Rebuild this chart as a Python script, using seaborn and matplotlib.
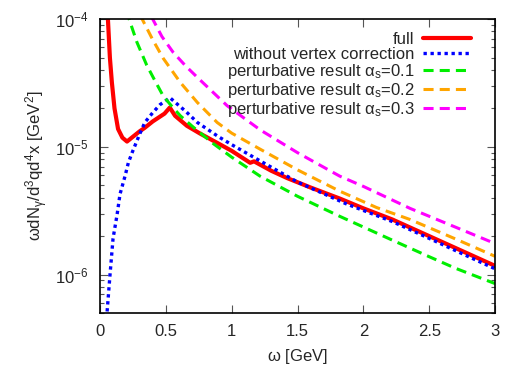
import matplotlib
matplotlib.use("Agg")
import matplotlib.pyplot as plt
import matplotlib.ticker as mticker
import seaborn as sns
import numpy as np

# values (log scale y)
omega_full = [0.045, 0.06, 0.075, 0.09, 0.11, 0.137, 0.17, 0.205, 0.25, 0.3, 0.34, 0.4,
              0.49, 0.53, 0.57, 0.66, 0.76, 0.9, 1.0, 1.14, 1.17, 1.2, 1.3, 1.42, 1.6,
              1.82, 2.0, 2.22, 2.5, 2.8, 3.0]
full = [1.6e-4, 1.0e-4, 5.0e-5, 3.2e-5, 2.0e-5, 1.38e-5, 1.18e-5, 1.1e-5, 1.2e-5, 1.32e-5,
        1.41e-5, 1.58e-5, 1.82e-5, 2.03e-5, 1.75e-5, 1.46e-5, 1.27e-5, 1.06e-5, 9.3e-6,
        7.5e-6, 7.7e-6, 7.4e-6, 6.5e-6, 5.7e-6, 4.8e-6, 3.94e-6, 3.3e-6, 2.7e-6, 2.0e-6,
        1.45e-6, 1.17e-6]

omega_novc = [0.045, 0.053, 0.076, 0.099, 0.13, 0.152, 0.19, 0.215, 0.243, 0.3, 0.34, 0.4,
              0.456, 0.5, 0.53, 0.6, 0.65, 0.74, 0.9, 1.0, 1.215, 1.5, 1.875, 2.22, 2.5,
              2.8, 3.0]
no_vertex = [4.0e-7, 5.0e-7, 1.0e-6, 1.92e-6, 2.96e-6, 4.27e-6, 5.9e-6, 7.5e-6, 8.97e-6,
             1.25e-5, 1.55e-5, 1.85e-5, 2.14e-5, 2.3e-5, 2.43e-5, 2.1e-5, 1.9e-5, 1.55e-5,
             1.2e-5, 1.04e-5, 7.77e-6, 5.3e-6, 3.56e-6, 2.6e-6, 1.92e-6, 1.38e-6, 1.11e-6]

omega_a01 = [0.2, 0.228, 0.28, 0.355, 0.42, 0.48, 0.55, 0.61, 0.7, 0.86, 1.0, 1.215, 1.5,
             1.82, 2.2, 2.5, 2.7, 3.0]
pert_01 = [1.17e-4, 9.5e-5, 6.6e-5, 4.35e-5, 3.25e-5, 2.5e-5, 2.05e-5, 1.75e-5, 1.45e-5,
           1.06e-5, 8.3e-6, 5.9e-6, 4.1e-6, 2.86e-6, 1.9e-6, 1.38e-6, 1.12e-6, 8.5e-7]

omega_a02 = [0.25, 0.32, 0.4, 0.48, 0.61, 0.74, 0.89, 1.0, 1.215, 1.5, 1.82, 2.1, 2.354,
             2.7, 3.0]
pert_02 = [1.4e-4, 1.0e-4, 6.9e-5, 4.93e-5, 3.19e-5, 2.22e-5, 1.55e-5, 1.28e-5, 9.6e-6,
           6.6e-6, 4.5e-6, 3.35e-6, 2.7e-6, 1.9e-6, 1.39e-6]

omega_a03 = [0.33, 0.4, 0.47, 0.555, 0.65, 0.74, 0.965, 1.215, 1.5, 1.82, 2.0, 2.354,
             2.7, 3.0]
pert_03 = [1.35e-4, 1.0e-4, 7.3e-5, 5.5e-5, 4.3e-5, 3.49e-5, 2.1e-5, 1.36e-5, 9.0e-6,
           5.9e-6, 4.9e-6, 3.3e-6, 2.35e-6, 1.75e-6]

sns.set_style("ticks")
plt.rcParams["font.family"] = ["Liberation Sans", "DejaVu Sans"]
plt.rcParams["mathtext.fontset"] = "custom"
plt.rcParams["mathtext.rm"] = "Liberation Sans"
plt.rcParams["mathtext.it"] = "Liberation Sans"
plt.rcParams["mathtext.default"] = "regular"

fig = plt.figure(figsize=(5.25, 3.67), dpi=100)
ax = fig.add_axes([0.1905, 0.147, 0.7525, 0.801])

dash = (0, (3.3, 2.0))
sns.lineplot(x=omega_full, y=full, ax=ax, color="#ff0000", lw=3.0, label="full")
sns.lineplot(x=omega_novc, y=no_vertex, ax=ax, color="#0000ff", lw=2.4,
             linestyle=(0, (1, 1.1)), label="without vertex correction")
sns.lineplot(x=omega_a01, y=pert_01, ax=ax, color="#00ee00", lw=2.2, linestyle=dash,
             label=r"perturbative result $\alpha_s$=0.1")
sns.lineplot(x=omega_a02, y=pert_02, ax=ax, color="#ffa500", lw=2.2, linestyle=dash,
             label=r"perturbative result $\alpha_s$=0.2")
sns.lineplot(x=omega_a03, y=pert_03, ax=ax, color="#ff00ff", lw=2.2, linestyle=dash,
             label=r"perturbative result $\alpha_s$=0.3")

ax.set_yscale("log")
ax.set_xlim(0, 3)
ax.set_ylim(5e-7, 1e-4)
ax.xaxis.set_major_locator(mticker.MultipleLocator(0.5))
ax.xaxis.set_major_formatter(mticker.FuncFormatter(lambda v, p: f"{v:g}"))
ax.yaxis.set_major_locator(mticker.LogLocator(base=10))
ax.yaxis.set_minor_locator(mticker.LogLocator(base=10, subs=np.arange(2, 10)))
ax.yaxis.set_minor_formatter(mticker.NullFormatter())

ax.tick_params(which="both", direction="in", top=True, right=True, labelsize=12,
               width=0.8, color="#555555")
ax.tick_params(which="major", length=6, pad=8)
ax.tick_params(which="minor", length=3)
for s in ax.spines.values():
    s.set_linewidth(1.2)
    s.set_color("black")

ax.set_xlabel(r"$\omega$ [GeV]", fontsize=12, labelpad=6)
ax.set_ylabel(r"$\omega$dN$_\gamma$/d$^3$qd$^4$x [GeV$^2$]", fontsize=12)

ax.legend(loc="upper right", markerfirst=False, frameon=False, fontsize=12,
          handlelength=2.9, labelspacing=0.0, borderaxespad=0.2, handletextpad=0.5,
          bbox_to_anchor=(0.965, 0.99))

fig.savefig("out.png", dpi=100)
